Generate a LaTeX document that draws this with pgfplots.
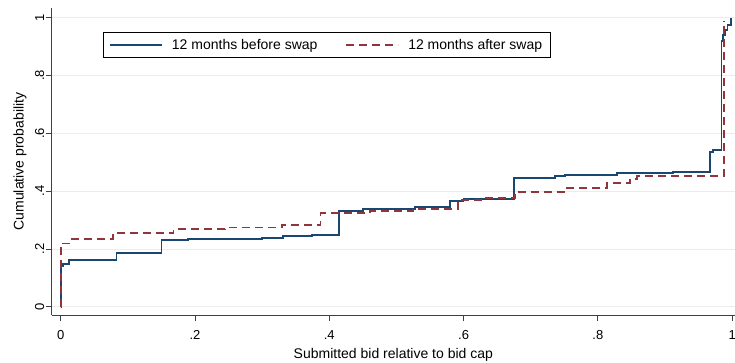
\documentclass[border=0pt]{standalone}
\usepackage{pgfplots}
\pgfplotsset{compat=1.18}
\usepackage{fontspec}
\setmainfont{Liberation Sans}
\definecolor{stnavy}{RGB}{26,71,111}
\definecolor{stmaroon}{RGB}{144,53,59}
\definecolor{gridc}{RGB}{234,236,237}
\begin{document}
\begin{tikzpicture}
\path[use as bounding box] (-51.7pt,-47pt) rectangle (683.3pt,315pt);
\begin{axis}[
  at={(0pt,0pt)}, anchor=south west,
  scale only axis,
  width=683.3pt, height=307pt,
  xmin=-0.0134, xmax=1.0042,
  ymin=-0.0287, ymax=1.0336,
  axis x line*=bottom, axis y line*=left,
  axis line style={line width=0.8pt, color=black!75, -},
  tick align=outside,
  major tick length=6pt,
  tick style={line width=0.8pt, color=black!75},
  xtick={0,0.2,0.4,0.6,0.8,1},
  xticklabels={0,.2,.4,.6,.8,1},
  ytick={0,0.2,0.4,0.6,0.8,1},
  yticklabels={0,.2,.4,.6,.8,1},
  /pgf/number format/assume math mode=true,
  ticklabel style={font=\fontsize{13}{15}\selectfont},
  xticklabel style={yshift=-6pt},
  yticklabel style={anchor=center, xshift=-6pt, rotate=90},
  ymajorgrids,
  major grid style={line width=0.8pt, color=gridc},
  xlabel={Submitted bid relative to bid cap},
  ylabel={Cumulative probability},
  label style={font=\fontsize{14}{16}\selectfont},
  xlabel style={at={(axis description cs:0.5,0)}, anchor=base, yshift=-43pt},
  ylabel style={at={(axis description cs:0,0.5)}, anchor=center, yshift=31.7pt, xshift=0pt},
  legend columns=2,
  legend style={at={(axis description cs:0.0747,0.9208)}, anchor=north west,
    draw=black, line width=0.8pt, font=\fontsize{14}{16}\selectfont,
    inner xsep=6pt, inner ysep=4.5pt,
    /tikz/every even column/.append style={column sep=26pt}},
  legend image code/.code={\draw[#1, line width=1.8pt] (0pt,0pt) -- (52pt,0pt); \path (59pt,0pt);},
]
\addplot[const plot, stnavy, line width=1.8pt] coordinates {
(0,0) (0.0005,0.140) (0.004,0.148) (0.012,0.162) (0.083,0.187)
(0.150,0.231) (0.19,0.233) (0.30,0.238) (0.331,0.244) (0.374,0.249)
(0.415,0.332) (0.450,0.339) (0.528,0.345) (0.580,0.367) (0.600,0.374)
(0.675,0.444) (0.736,0.452) (0.751,0.457) (0.828,0.462) (0.912,0.466)
(0.967,0.536) (0.972,0.542) (0.984,0.920) (0.986,0.940) (0.989,0.958)
(0.993,0.975) (0.998,1.0)
};
\addlegendentry{12 months before swap}
\addplot[const plot, stmaroon, line width=1.8pt, dash pattern=on 8pt off 5pt] coordinates {
(0,0) (0.0005,0.219) (0.016,0.234) (0.078,0.254) (0.168,0.268)
(0.245,0.274) (0.33,0.283) (0.387,0.323) (0.461,0.330) (0.525,0.338)
(0.592,0.369) (0.629,0.377) (0.677,0.398) (0.754,0.410) (0.813,0.427)
(0.848,0.442) (0.858,0.452) (0.988,0.99)
};
\addlegendentry{12 months after swap\hspace{12pt}}
\end{axis}
\end{tikzpicture}
\end{document}
